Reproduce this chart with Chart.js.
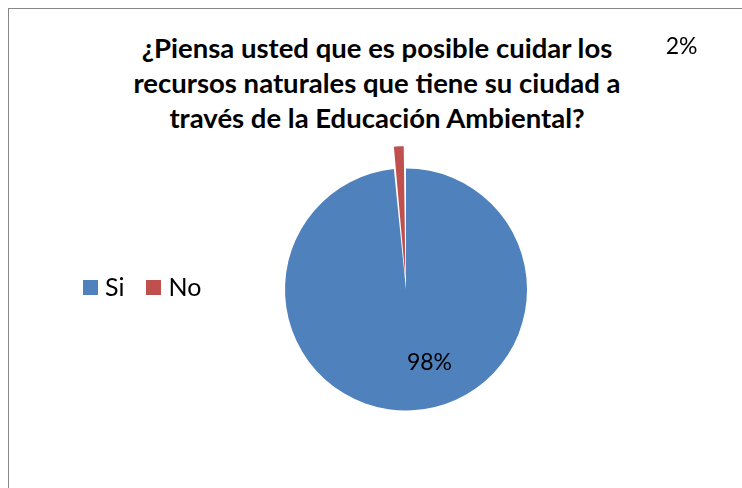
<!DOCTYPE html>
<html>
<head>
<meta charset="utf-8">
<script src="https://cdn.jsdelivr.net/npm/chart.js@4/dist/chart.umd.min.js"></script>
<style>
  html, body { margin: 0; padding: 0; background: #fff; overflow: hidden; }
  body { width: 742px; height: 488px; position: relative; }
  #frame {
    position: absolute; left: 8px; top: 8px;
    width: 736px; height: 490px;
    border: 1px solid #878787;
  }
  #title {
    position: absolute; left: 0; top: 21px; width: 736px;
    text-align: center; font: bold 27.5px Lato, sans-serif; line-height: 35px;
    color: #000;
  }
  #legend {
    position: absolute; left: 74px; top: 262px; height: 30px;
    display: flex; align-items: center;
    font: 25px Lato, sans-serif; line-height: 30px; color: #000; white-space: nowrap;
  }
  #legend .item { display: flex; align-items: center; margin-right: 22px; }
  #legend .box { width: 15px; height: 15px; margin-right: 7px; margin-top: 3px; }
  canvas { position: absolute; left: 0; top: 0; }
</style>
</head>
<body>
<div id="frame">
  <div id="title">¿Piensa usted que es posible cuidar los<br>recursos naturales que tiene su ciudad a<br>través de la Educación Ambiental?</div>
  <canvas id="chart" width="736" height="490"></canvas>
  <div id="legend"></div>
</div>
<script>
var labels = ['Si', 'No'];
var values = [98.4, 1.6];
var colors = ['#4F81BD', '#C0504D'];
var explode = [0, 47];
// where each percentage sits, as fractions of the pie radius from its centre
var labelPos = [[0.194, 0.603], [2.277, -2.004]];

function buildLegend() {
    var html = '';
    for (var i = 0; i < labels.length; i++) {
        html += '<span class="item"><span class="box" style="background:' + colors[i] + '"></span>' + labels[i] + '</span>';
    }
    document.getElementById('legend').innerHTML = html;
}

var percentLabels = {
    id: 'percentLabels',
    afterDatasetsDraw: function (chart) {
        var ctx = chart.ctx;
        var meta = chart.getDatasetMeta(0);
        var total = 0;
        for (var i = 0; i < values.length; i++) total += values[i];
        ctx.save();
        ctx.font = '23px Lato, sans-serif';
        ctx.fillStyle = '#000';
        ctx.textAlign = 'center';
        ctx.textBaseline = 'middle';
        for (var j = 0; j < meta.data.length; j++) {
            var arc = meta.data[j];
            var r = arc.outerRadius;
            var txt = Math.round(values[j] / total * 100) + '%';
            ctx.fillText(txt, arc.x + labelPos[j][0] * r, arc.y + labelPos[j][1] * r);
        }
        ctx.restore();
    }
};

buildLegend();

var chart = new Chart(document.getElementById('chart').getContext('2d'), {
    type: 'pie',
    data: {
        labels: labels,
        datasets: [{
            data: values,
            backgroundColor: colors,
            borderWidth: 0,
            offset: explode
        }]
    },
    options: {
        responsive: false,
        animation: false,
        radius: 121,
        layout: { padding: { left: 58, right: 0, top: 100, bottom: 29 } },
        plugins: {
            legend: { display: false },
            title: { display: false },
            tooltip: { enabled: false }
        }
    },
    plugins: [percentLabels]
});
</script>
</body>
</html>
